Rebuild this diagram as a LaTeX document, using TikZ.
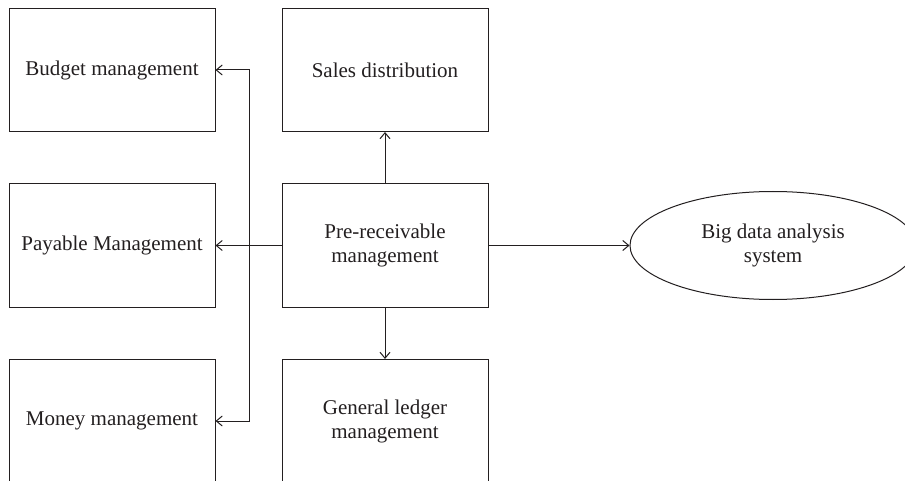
\documentclass[tikz,border=0pt]{standalone}
\usepackage{fontspec}
\setmainfont{Liberation Serif}
\usetikzlibrary{arrows.meta,shapes.geometric}
\definecolor{ink}{HTML}{231F20}
\tikzset{
  modbox/.style={draw=ink, line width=1pt, rectangle, minimum width=206pt,
    minimum height=123pt, align=center, text=ink, inner sep=0pt,
    font=\fontsize{21}{24}\selectfont},
  sysoval/.style={draw=ink, line width=1pt, ellipse, minimum width=286pt,
    minimum height=108pt, align=center, text=ink, inner sep=0pt,
    font=\fontsize{21}{24}\selectfont},
  flow/.style={draw=ink, line width=1pt, -{Straight Barb[length=6pt,width=10pt]}}
}
\begin{document}
\begin{tikzpicture}[x=1pt, y=-1pt]
  \useasboundingbox (0,0) rectangle (905,481);
  \clip (0,0) rectangle (905,481);

  % left column
  \node[modbox] (budget) at (112,70) {Budget management};
  \node[modbox] (payable) at (112,245.5) {Payable Management};
  \node[modbox] (money) at (112,421) {Money management};

  % middle column
  \node[modbox] (sales) at (385,70) {Sales distribution};
  \node[modbox] (pre) at (385,245.5) {Pre-receivable\\management};
  \node[modbox] (ledger) at (385,421) {General ledger\\management};

  % analysis system
  \node[sysoval] (big) at (773,245.5) {Big data analysis\\system};

  % junction on the trunk line
  \coordinate (j) at (249,245.5);

  \draw[flow] (pre.north) -- (sales.south);
  \draw[flow] (pre.south) -- (ledger.north);
  \draw[flow] (pre.east) -- (big.west);
  \draw[flow] (pre.west) -- (payable.east);
  \draw[flow] (j) |- (budget.east);
  \draw[flow] (j) |- (money.east);
\end{tikzpicture}
\end{document}
